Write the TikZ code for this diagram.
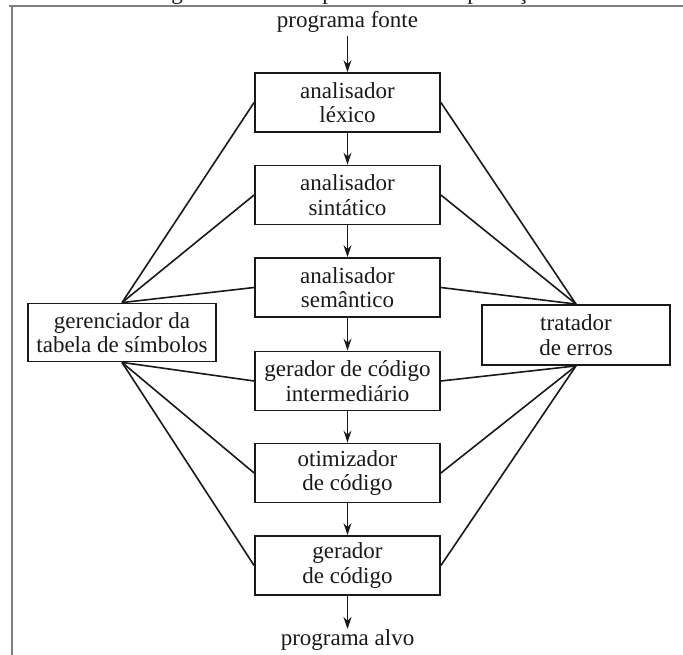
\documentclass[tikz,border=0pt]{standalone}
\usepackage{fontspec}
\setmainfont{Liberation Serif}
\usetikzlibrary{arrows.meta}
\begin{document}
\begin{tikzpicture}[x=1pt,y=-1pt,
  txt/.style={font=\fontsize{23}{24.5}\selectfont, text=black!90},
  box/.style={txt, draw=black!90, line width=1.8pt, minimum width=185pt, minimum height=59pt, align=center, inner sep=0pt},
  sidebox/.style={box, minimum width=188pt, minimum height=58pt},
  link/.style={draw=black!90, line width=1.6pt},
  flow/.style={draw=black!90, line width=1.6pt, -{Stealth[length=12pt,width=8pt]}},
  frame/.style={draw=black!50, line width=2pt}]
\useasboundingbox (0,0) rectangle (683,655);
% clipped caption (only descenders visible)
\begin{scope}
\clip (0,0) rectangle (683,655);
\node[txt, anchor=base] (c1) at (177,0) {g};
\node[txt, anchor=base] (c2) at (328,0) {p};
\node[txt, anchor=base] (c3) at (473,0) {p};
\node[txt, anchor=base] (c4) at (523,0) {ç};
\end{scope}
% frame
\draw[frame] (9,6.5) -- (683,6.5);
\draw[frame] (11.5,6.5) -- (11.5,655);
% texts
\node[txt, anchor=base] (src) at (347.5,28) {programa fonte};
\node[txt, anchor=base] (dst) at (347.5,645) {programa alvo};
% phases
\node[box] (b1) at (347.5,102.5) {analisador\\léxico};
\node[box] (b2) at (347.5,195) {analisador\\sintático};
\node[box] (b3) at (347.5,287.5) {analisador\\semântico};
\node[box] (b4) at (347.5,381) {gerador de código\\intermediário};
\node[box] (b5) at (347.5,473) {otimizador\\de código};
\node[box] (b6) at (347.5,565.5) {gerador\\de código};
% side boxes
\node[sidebox] (tab) at (122,332.5) {gerenciador da\\tabela de símbolos};
\node[sidebox, minimum height=60pt] (err) at (576,335) {tratador\\de erros};
% flow arrows
\coordinate (srcb) at (347.5,36);
\coordinate (dstt) at (347.5,629);
\draw[flow] (srcb) -- (b1.north);
\draw[flow] (b1) -- (b2);
\draw[flow] (b2) -- (b3);
\draw[flow] (b3) -- (b4);
\draw[flow] (b4) -- (b5);
\draw[flow] (b5) -- (b6);
\draw[flow] (b6.south) -- (dstt);
% links
\foreach \b in {b1,b2,b3} {
  \draw[link] (tab.north) -- (\b.west);
  \draw[link] (err.north) -- (\b.east);
}
\foreach \b in {b4,b5,b6} {
  \draw[link] (tab.south) -- (\b.west);
  \draw[link] (err.south) -- (\b.east);
}
\end{tikzpicture}
\end{document}
